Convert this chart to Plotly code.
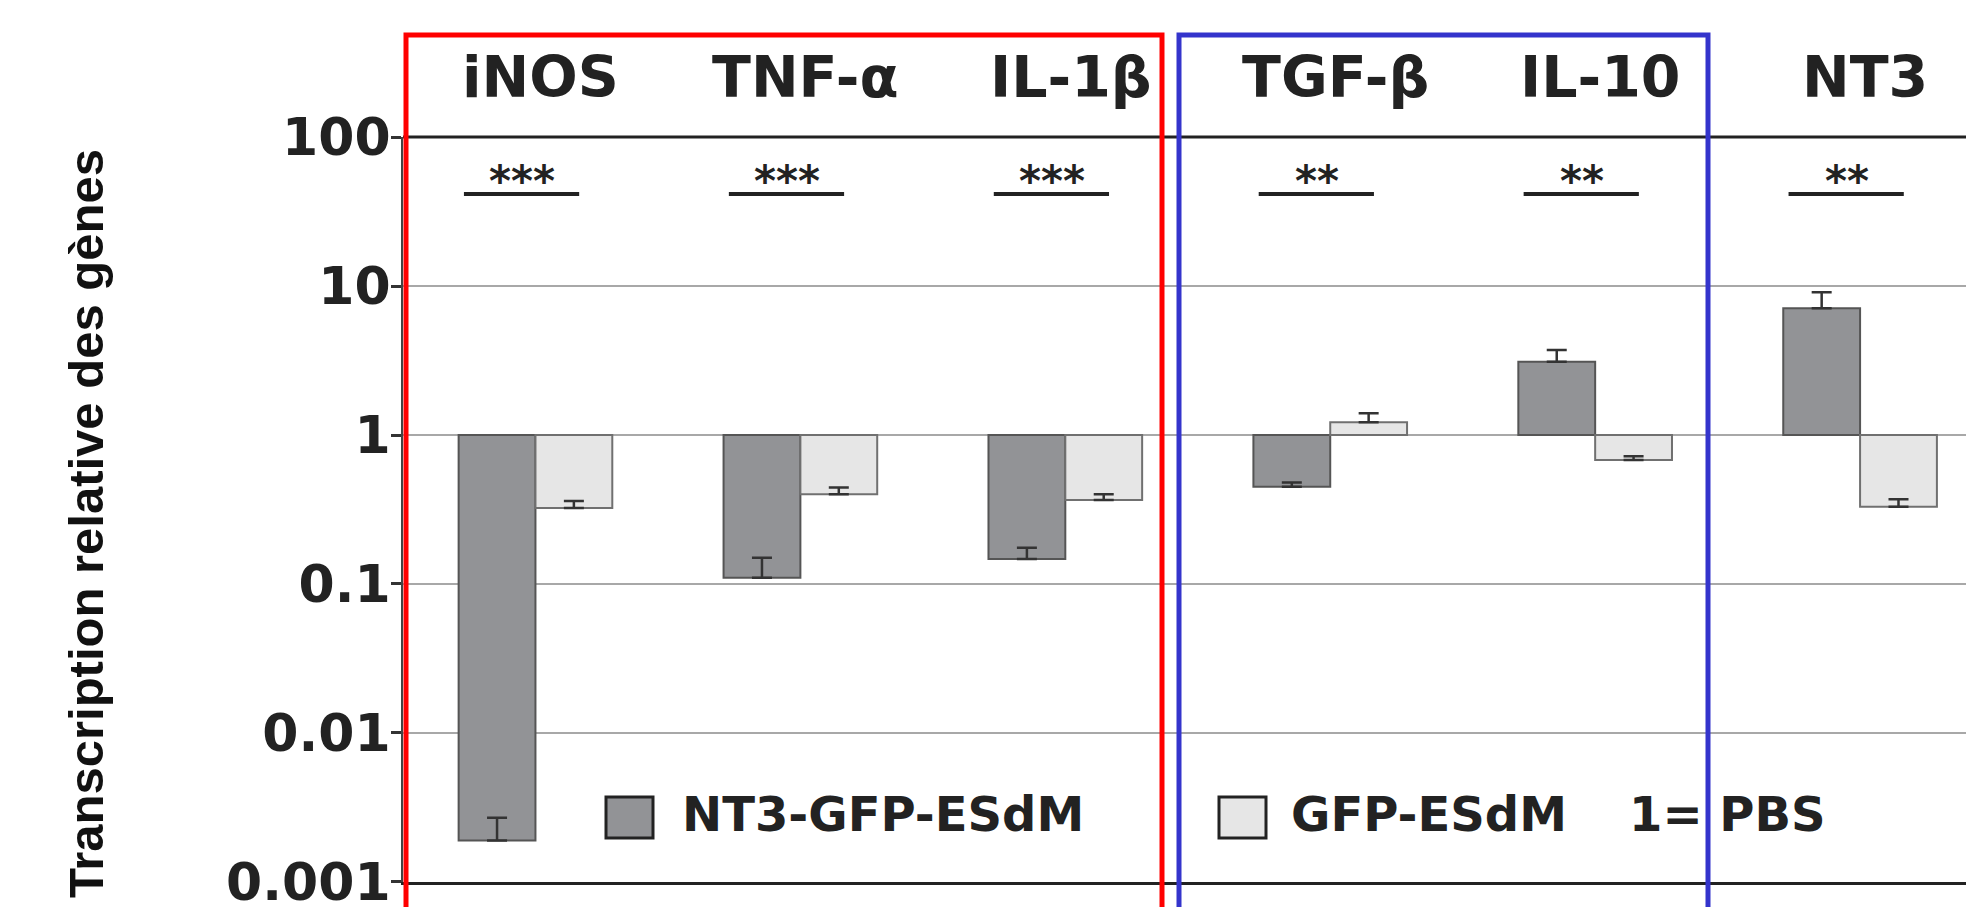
import plotly.graph_objects as go

# ---- data ----
genes = ["iNOS", "TNF-α", "IL-1β", "TGF-β", "IL-10", "NT3"]
nt3_gfp_esdm = [0.0019, 0.11, 0.147, 0.45, 3.1, 7.1]
nt3_gfp_esdm_err = [0.0008, 0.04, 0.028, 0.03, 0.62, 2.0]
gfp_esdm = [0.324, 0.40, 0.366, 1.22, 0.68, 0.33]
gfp_esdm_err = [0.036, 0.045, 0.035, 0.18, 0.04, 0.04]
significance = ["***", "***", "***", "**", "**", "**"]
pbs_level = 1
y_tick_vals = [0.001, 0.01, 0.1, 1, 10, 100]
y_tick_text = ["0.001", "0.01", "0.1", "1", "10", "100"]
series_names = ["NT3-GFP-ESdM", "GFP-ESdM"]

FONT = "DejaVu Sans"
DARK = "#929396"
LIGHT = "#e6e6e6"
PAGE_OFF = 8  # default body margin of the html page

fig = go.Figure()

def add_series(values, errs, name, fill, outline):
    fig.add_trace(go.Bar(
        x=genes,
        y=[v - pbs_level for v in values],
        base=pbs_level,
        name=name,
        showlegend=False,
        marker=dict(color=fill, line=dict(color=outline, width=2)),
        error_y=dict(type="data", array=errs, arrayminus=[0] * len(errs),
                     symmetric=False, color="#333333", thickness=2.5, width=10),
    ))

add_series(nt3_gfp_esdm, nt3_gfp_esdm_err, series_names[0], DARK, "#555555")
add_series(gfp_esdm, gfp_esdm_err, series_names[1], LIGHT, "#707070")

# plot geometry in screen pixels
L, R, T, B = 403, 1974, 137, 882
def px(xpix):
    return (xpix - L) / (R - L)
def py(ypix):
    return (B - ypix) / (B - T)

shapes = []
annotations = []

# top dark line at 100
shapes.append(dict(type="line", xref="paper", yref="paper", x0=0, x1=1, y0=1, y1=1,
                   line=dict(color="#222222", width=3)))

# significance bars, stars and gene labels
for i, (g, s) in enumerate(zip(genes, significance)):
    shapes.append(dict(type="line", xref="x", yref="paper",
                       x0=i - 0.27, x1=i + 0.165, y0=py(194), y1=py(194),
                       line=dict(color="#222222", width=4)))
    annotations.append(dict(xref="x", yref="paper", x=i - 0.05, y=py(181), text=s,
                            showarrow=False, xanchor="center", yanchor="middle",
                            font=dict(family=FONT, size=42, color="#222222", weight=700)))
    annotations.append(dict(xref="x", yref="paper", x=i + 0.02, y=py(77), text=g,
                            showarrow=False, xanchor="center", yanchor="middle",
                            font=dict(family=FONT, size=57, color="#222222", weight=700)))

# red and blue group boxes (open at bottom, beyond the picture)
shapes.append(dict(type="rect", xref="paper", yref="paper", x0=px(406), x1=px(1162),
                   y0=-0.2, y1=py(35), line=dict(color="#ff0000", width=5),
                   fillcolor="rgba(0,0,0,0)", layer="above"))
shapes.append(dict(type="rect", xref="paper", yref="paper", x0=px(1179), x1=px(1708),
                   y0=-0.2, y1=py(35), line=dict(color="#3434cc", width=5),
                   fillcolor="rgba(0,0,0,0)", layer="above"))

# manual legend
shapes.append(dict(type="rect", xref="paper", yref="paper", x0=px(606), x1=px(653),
                   y0=py(838), y1=py(797), fillcolor=DARK, line=dict(color="#222222", width=3)))
shapes.append(dict(type="rect", xref="paper", yref="paper", x0=px(1219), x1=px(1266),
                   y0=py(838), y1=py(797), fillcolor=LIGHT, line=dict(color="#222222", width=3)))
for txt, xp in [(series_names[0], 680), (series_names[1], 1289), ("1= PBS", 1627)]:
    annotations.append(dict(xref="paper", yref="paper", x=px(xp), y=py(814), text=txt,
                            showarrow=False, xanchor="left", yanchor="middle",
                            font=dict(family=FONT, size=48, color="#222222", weight=700)))

# y title
annotations.append(dict(xref="paper", yref="paper", x=px(86), y=py(524),
                        text="Transcription relative des gènes", textangle=-90,
                        showarrow=False, xanchor="center", yanchor="middle",
                        font=dict(family="Liberation Sans", size=49, color="#111111", weight=700)))

fig.update_layout(
    width=1974 - PAGE_OFF, height=907 - PAGE_OFF,
    margin=dict(l=L - PAGE_OFF, r=0, t=T - PAGE_OFF, b=907 - B),
    paper_bgcolor="white", plot_bgcolor="white",
    barmode="group", bargap=0.42, bargroupgap=0,
    shapes=shapes, annotations=annotations,
    xaxis=dict(type="category", range=[-0.5, 5.43], showticklabels=False, showgrid=False,
               showline=True, linecolor="#222222", linewidth=3, ticks="", zeroline=False,
               automargin=False),
    yaxis=dict(type="log", range=[-3.0005, 2.0005], tickvals=y_tick_vals, ticktext=y_tick_text,
               showgrid=True, gridcolor="#a8a8a8", gridwidth=2,
               showline=True, linecolor="#444444", linewidth=2,
               ticks="outside", ticklen=10, tickwidth=3, tickcolor="#333333",
               ticklabelstandoff=-10, ticklabeloverflow="allow",
               tickfont=dict(family=FONT, size=52, color="#222222", weight=700),
               zeroline=False, automargin=False),
)

fig.write_html("out.html")
